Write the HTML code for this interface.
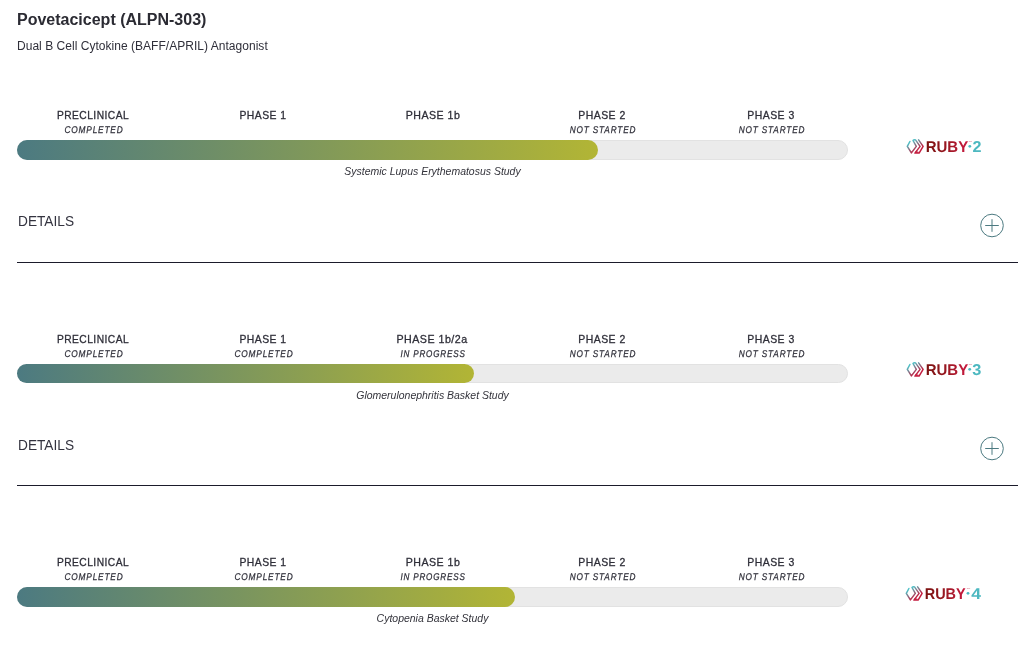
<!DOCTYPE html>
<html lang="en"><head><meta charset="utf-8"><title>Povetacicept (ALPN-303)</title>
<style>
html,body{margin:0;padding:0;background:#fff;}
body{width:1030px;height:646px;position:relative;overflow:hidden;font-family:"Liberation Sans",sans-serif;color:#2e2e38;}
.abs{position:absolute;white-space:nowrap;}
.title{left:17px;top:10px;font-size:16px;font-weight:bold;line-height:20px;color:#2b2b33;}
.sub{left:17px;top:39px;font-size:12px;line-height:14px;letter-spacing:0.03px;color:#2f2f3a;}
.lab{width:170px;text-align:center;font-size:11px;line-height:12px;letter-spacing:0.5px;color:#2e2e38;-webkit-text-stroke:0.3px #2e2e38;}
.st{width:170px;text-align:center;font-size:9.8px;line-height:10px;text-rendering:geometricPrecision;font-style:italic;letter-spacing:1px;color:#2e2e38;-webkit-text-stroke:0.25px #2e2e38;}
.track{left:17px;width:831px;background:#ebebeb;border:1px solid #e2e2e2;box-sizing:border-box;border-radius:10px;}
.fill{left:17px;border-radius:10px;background:linear-gradient(90deg,#4c7a81 0%,#b2b535 100%);}
.study{left:17px;width:831px;text-align:center;font-size:11px;line-height:12px;font-style:italic;color:#33333b;}
.det{left:17.8px;font-size:14px;line-height:16px;color:#33333f;transform:scaleX(0.978);transform-origin:0 50%;}
.hr{left:17px;width:1001px;height:1px;background:#1b1b2b;}
svg{position:absolute;overflow:visible;}
</style></head><body>
<svg width="0" height="0" style="left:0;top:0"><defs><linearGradient id="gi" gradientUnits="userSpaceOnUse" x1="6" y1="4" x2="15" y2="17"><stop offset="0.2" stop-color="#4fc0c6"/><stop offset="0.85" stop-color="#c41d40"/></linearGradient><linearGradient id="gr" x1="0" y1="0" x2="1" y2="0"><stop offset="0" stop-color="#7a1210"/><stop offset="0.5" stop-color="#9a1822"/><stop offset="1" stop-color="#cc1a42"/></linearGradient></defs></svg>
<div class="abs title">Povetacicept (ALPN-303)</div>
<div class="abs sub">Dual B Cell Cytokine (BAFF/APRIL) Antagonist</div>
<div class="abs lab" style="left:8.4px;top:109px;transform:scaleX(0.93)">PRECLINICAL</div><div class="abs st" style="left:9.4px;top:126px;transform:scaleX(0.845)">COMPLETED</div><div class="abs lab" style="left:177.5px;top:109px;transform:scaleX(0.945)">PHASE 1</div><div class="abs lab" style="left:347.5px;top:109px;transform:scaleX(0.965)">PHASE 1b</div><div class="abs lab" style="left:517.0px;top:109px;transform:scaleX(0.95)">PHASE 2</div><div class="abs st" style="left:517.6px;top:126px;transform:scaleX(0.84)">NOT STARTED</div><div class="abs lab" style="left:686.3px;top:109px;transform:scaleX(0.95)">PHASE 3</div><div class="abs st" style="left:687.1px;top:126px;transform:scaleX(0.84)">NOT STARTED</div>
<div class="abs track" style="top:140px;height:20px"></div><div class="abs fill" style="top:140px;height:20px;width:581px"></div>
<div class="abs study" style="top:165px;left:17.4px;transform:scaleX(0.952)">Systemic Lupus Erythematosus Study</div>
<svg class="logo" style="left:902px;top:136px" width="90" height="22" viewBox="0 0 90 22"><g fill="none" stroke="url(#gi)" stroke-width="1.5" stroke-linejoin="round" stroke-linecap="round"><path d="M7.9 5.5 L5.3 10.4 L9.4 16.9 L14.3 10.4 L11 4.5 Q12 3.3 13.5 3.9 L18.1 10.4 L12.9 17.1 L17.1 17.1 L21.1 10.4 L16.6 3.8"/><path d="M13.6 16.2 L16 16.2" stroke-width="1.2"/></g><text x="23.7" y="15.75" font-family="Liberation Sans, sans-serif" font-weight="bold" font-size="15.5" text-rendering="geometricPrecision" fill="url(#gr)" textLength="42.5" lengthAdjust="spacingAndGlyphs">RUBY</text><circle cx="67.8" cy="10.3" r="1.4" fill="#4db8c0"/><text x="70.5" y="15.75" font-family="Liberation Sans, sans-serif" font-weight="bold" font-size="15.7" text-rendering="geometricPrecision" fill="#4db8c0" textLength="9.0" lengthAdjust="spacingAndGlyphs">2</text><text x="66.6" y="6.4" font-family="Liberation Sans, sans-serif" font-size="2.4" fill="#c8506a">TM</text></svg>
<div class="abs det" style="top:213px">DETAILS</div><svg style="left:979px;top:213px" width="26" height="26" viewBox="0 0 26 26"><g fill="none" stroke="#4c7a81" stroke-width="1"><circle cx="13" cy="12.5" r="11.3"/><path d="M6.2 12.5H19.8M13 6.2V18.8"/></g></svg><div class="abs hr" style="top:262px"></div>
<div class="abs lab" style="left:8.4px;top:333px;transform:scaleX(0.93)">PRECLINICAL</div><div class="abs st" style="left:9.4px;top:350px;transform:scaleX(0.845)">COMPLETED</div><div class="abs lab" style="left:177.5px;top:333px;transform:scaleX(0.945)">PHASE 1</div><div class="abs st" style="left:178.9px;top:350px;transform:scaleX(0.845)">COMPLETED</div><div class="abs lab" style="left:346.9px;top:333px;transform:scaleX(0.97)">PHASE 1b/2a</div><div class="abs st" style="left:348.0px;top:350px;transform:scaleX(0.825)">IN PROGRESS</div><div class="abs lab" style="left:517.0px;top:333px;transform:scaleX(0.95)">PHASE 2</div><div class="abs st" style="left:517.6px;top:350px;transform:scaleX(0.84)">NOT STARTED</div><div class="abs lab" style="left:686.3px;top:333px;transform:scaleX(0.95)">PHASE 3</div><div class="abs st" style="left:687.1px;top:350px;transform:scaleX(0.84)">NOT STARTED</div>
<div class="abs track" style="top:364px;height:19px"></div><div class="abs fill" style="top:364px;height:19px;width:457px"></div>
<div class="abs study" style="top:389px;left:17.4px;transform:scaleX(0.952)">Glomerulonephritis Basket Study</div>
<svg class="logo" style="left:902px;top:359px" width="90" height="22" viewBox="0 0 90 22"><g fill="none" stroke="url(#gi)" stroke-width="1.5" stroke-linejoin="round" stroke-linecap="round"><path d="M7.9 5.5 L5.3 10.4 L9.4 16.9 L14.3 10.4 L11 4.5 Q12 3.3 13.5 3.9 L18.1 10.4 L12.9 17.1 L17.1 17.1 L21.1 10.4 L16.6 3.8"/><path d="M13.6 16.2 L16 16.2" stroke-width="1.2"/></g><text x="23.7" y="15.75" font-family="Liberation Sans, sans-serif" font-weight="bold" font-size="15.5" text-rendering="geometricPrecision" fill="url(#gr)" textLength="42.5" lengthAdjust="spacingAndGlyphs">RUBY</text><circle cx="67.7" cy="10.3" r="1.4" fill="#4db8c0"/><text x="70.3" y="15.75" font-family="Liberation Sans, sans-serif" font-weight="bold" font-size="15.7" text-rendering="geometricPrecision" fill="#4db8c0" textLength="9.1" lengthAdjust="spacingAndGlyphs">3</text><text x="66.5" y="6.4" font-family="Liberation Sans, sans-serif" font-size="2.4" fill="#c8506a">TM</text></svg>
<div class="abs det" style="top:437px">DETAILS</div><svg style="left:979px;top:436px" width="26" height="26" viewBox="0 0 26 26"><g fill="none" stroke="#4c7a81" stroke-width="1"><circle cx="13" cy="12.5" r="11.3"/><path d="M6.2 12.5H19.8M13 6.2V18.8"/></g></svg><div class="abs hr" style="top:485px"></div>
<div class="abs lab" style="left:8.4px;top:556px;transform:scaleX(0.93)">PRECLINICAL</div><div class="abs st" style="left:9.4px;top:573px;transform:scaleX(0.845)">COMPLETED</div><div class="abs lab" style="left:177.5px;top:556px;transform:scaleX(0.945)">PHASE 1</div><div class="abs st" style="left:178.9px;top:573px;transform:scaleX(0.845)">COMPLETED</div><div class="abs lab" style="left:347.5px;top:556px;transform:scaleX(0.965)">PHASE 1b</div><div class="abs st" style="left:348.0px;top:573px;transform:scaleX(0.825)">IN PROGRESS</div><div class="abs lab" style="left:517.0px;top:556px;transform:scaleX(0.95)">PHASE 2</div><div class="abs st" style="left:517.6px;top:573px;transform:scaleX(0.84)">NOT STARTED</div><div class="abs lab" style="left:686.3px;top:556px;transform:scaleX(0.95)">PHASE 3</div><div class="abs st" style="left:687.1px;top:573px;transform:scaleX(0.84)">NOT STARTED</div>
<div class="abs track" style="top:587px;height:20px"></div><div class="abs fill" style="top:587px;height:20px;width:498px"></div>
<div class="abs study" style="top:612px;left:17.4px;transform:scaleX(0.952)">Cytopenia Basket Study</div>
<svg class="logo" style="left:901.2px;top:582.7px" width="90" height="22" viewBox="0 0 90 22"><g fill="none" stroke="url(#gi)" stroke-width="1.5" stroke-linejoin="round" stroke-linecap="round"><path d="M7.9 5.5 L5.3 10.4 L9.4 16.9 L14.3 10.4 L11 4.5 Q12 3.3 13.5 3.9 L18.1 10.4 L12.9 17.1 L17.1 17.1 L21.1 10.4 L16.6 3.8"/><path d="M13.6 16.2 L16 16.2" stroke-width="1.2"/></g><text x="23.7" y="15.75" font-family="Liberation Sans, sans-serif" font-weight="bold" font-size="15.5" text-rendering="geometricPrecision" fill="url(#gr)" textLength="41.0" lengthAdjust="spacingAndGlyphs">RUBY</text><circle cx="67.0" cy="10.3" r="1.4" fill="#4db8c0"/><text x="70.2" y="15.75" font-family="Liberation Sans, sans-serif" font-weight="bold" font-size="15.7" text-rendering="geometricPrecision" fill="#4db8c0" textLength="9.8" lengthAdjust="spacingAndGlyphs">4</text><text x="65.8" y="6.4" font-family="Liberation Sans, sans-serif" font-size="2.4" fill="#c8506a">TM</text></svg>
</body></html>
